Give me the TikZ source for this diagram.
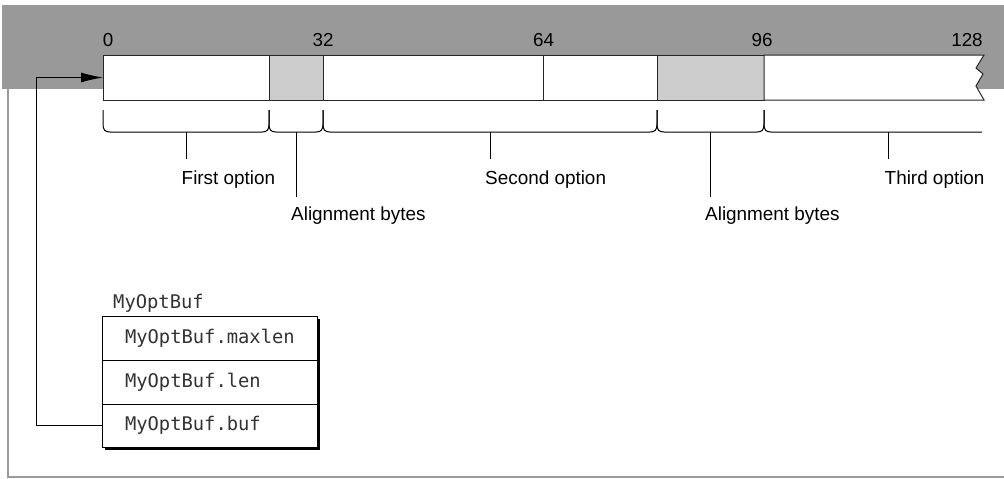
\documentclass[tikz,border=0pt]{standalone}
\usepackage{fontspec}
\setmainfont{Liberation Sans}
\newfontfamily\monof{DejaVu Sans Mono}
\usetikzlibrary{arrows.meta}
\definecolor{band}{HTML}{999999}
\definecolor{cellgray}{HTML}{CCCCCC}
\definecolor{framegray}{HTML}{9A9A9A}
\definecolor{monotext}{HTML}{333333}
\begin{document}
\begin{tikzpicture}[x=1pt,y=-1pt,
  cell/.style={draw=black!85, line width=1pt, fill=white, minimum height=45pt,
    inner sep=0pt, outer sep=0pt, anchor=north west},
  graycell/.style={cell, fill=cellgray},
  num/.style={anchor=base, inner sep=0pt, font=\fontsize{18.8}{22}\selectfont},
  lab/.style={anchor=base west, inner sep=0pt, font=\fontsize{18.9}{22}\selectfont},
  brace/.style={draw=black, line width=1pt},
  stem/.style={draw=black, line width=1pt},
  mono/.style={font=\monof\fontsize{18.8}{22}\selectfont, text=monotext},
  row/.style={mono, draw=black, line width=1pt, fill=white, anchor=north west,
    minimum height=44pt, text width=169pt, inner xsep=23pt, inner ysep=0pt,
    align=left, outer sep=0pt},
  link/.style={draw=black, line width=1pt, -{Latex[length=22pt,width=10pt]}}
]
\useasboundingbox (0,0) rectangle (1004,479);
% background band and frame
\fill[band] (2,5) rectangle (1004,89);
\draw[framegray, line width=1.5pt] (8,89) -- (8,477) -- (1004,477);

% bar cells
\node[cell, minimum width=166pt] (c1) at (103,55) {};
\node[graycell, minimum width=54pt] (c2) at (269,55) {};
\node[cell, minimum width=220pt] (c3) at (323,55) {};
\node[cell, minimum width=114pt] (c4) at (543,55) {};
\node[graycell, minimum width=107pt] (c5) at (657,55) {};
\draw[draw=black!85, line width=1pt, fill=white]
  (764,55) -- (984,55) -- (976,68) -- (983,74) -- (976,86) -- (984,100) -- (764,100) -- cycle;

% numbers
\node[num] (n0) at (108,46) {0};
\node[num] (n32) at (323,46) {32};
\node[num] (n64) at (543.5,46) {64};
\node[num] (n96) at (762,46) {96};
\node[num] (n128) at (967,46) {128};

% braces
\newcommand\brk[2]{%
  \draw[brace] (#1,110) -- (#1,124) .. controls (#1,130) and (#1+2,132) .. (#1+7,132)
    -- (#2-7,132) .. controls (#2-2,132) and (#2,130) .. (#2,124) -- (#2,110);}
\brk{103}{269}
\brk{269}{323}
\brk{323}{657}
\brk{657}{764}
\draw[brace] (764,110) -- (764,124) .. controls (764,130) and (766,132) .. (771,132) -- (982,132);

% stems and labels
\node[lab] (first) at (181.5,184) {First option};
\node[lab] (align1) at (291,220) {Alignment bytes};
\node[lab] (second) at (485,184) {Second option};
\node[lab] (align2) at (705,220) {Alignment bytes};
\node[lab] (third) at (884.5,184) {Third option};
\draw[stem] (186,132) -- (186,159);
\draw[stem] (296,132) -- (296,197);
\draw[stem] (490,132) -- (490,159);
\draw[stem] (710,132) -- (710,197);
\draw[stem] (888,132) -- (888,159);

% structure box
\node[mono, anchor=base west, inner sep=0pt] (title) at (113,308) {MyOptBuf};
\fill[black] (105,319) rectangle (320,450);
\node[row] (maxlen) at (102,316) {MyOptBuf.maxlen};
\node[row] (len) at (102,360) {MyOptBuf.len};
\node[row, minimum height=43pt] (buf) at (102,404) {MyOptBuf.buf};

% pointer
\draw[link] (buf.west) -- ++(-66,0) |- (c1.west);
\end{tikzpicture}
\end{document}
